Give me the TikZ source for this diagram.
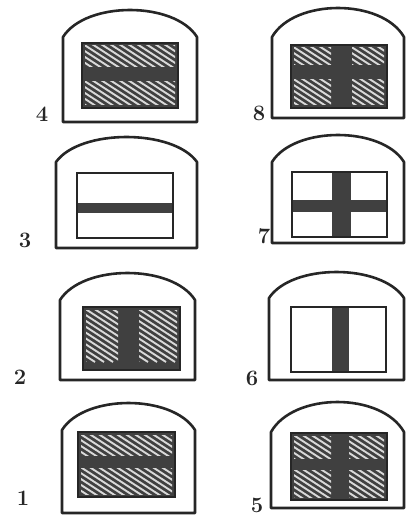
\documentclass[tikz,border=0pt]{standalone}
\usetikzlibrary{calc}
\tikzset{
  frame/.style={line width=2.6pt, draw=black!85, line join=round},
  pane/.style={line width=2.2pt, draw=black!85},
  darkfill/.style={fill=black!75},
  hatchline/.style={draw=white!85!black, line width=1.9pt},
  lbl/.style={font=\fontsize{22}{22}\selectfont\bfseries, text=black!85, inner sep=0pt}
}
% L R T S B  (image pixel coords, y downwards)
\newcommand\archframe[5]{%
  \pgfmathsetmacro\aW{#2-#1}%
  \pgfmathsetmacro\aH{#4-#3}%
  \draw[frame] (#1,#5) -- (#1,#4)
    .. controls (#1+0.17*\aW,#3-0.333*\aH) and (#2-0.17*\aW,#3-0.333*\aH) .. (#2,#4)
    -- (#2,#5) -- cycle;}
% hatched region x1 y1 x2 y2
\newcommand\hatchreg[4]{%
  \begin{scope}
    \clip (#1,#2) rectangle (#3,#4);
    \foreach \k in {-80,-71,...,110}
      \draw[hatchline] (#1+\k-40,#2-26) -- (#1+\k+80,#2+52);
  \end{scope}}
\begin{document}
\begin{tikzpicture}[x=1pt,y=-1pt]
\useasboundingbox (0,0) rectangle (407,518);
\fill[white] (0,0) rectangle (407,518);

% ---------- 4 ----------
\archframe{63}{197}{10}{37}{122}
\fill[darkfill] (82,43) rectangle (178,108);
\hatchreg{85}{46}{175}{67}
\hatchreg{85}{82}{175}{105}
\draw[pane] (82,43) rectangle (178,108);
\node[lbl] (n4) at (42,114) {4};

% ---------- 8 ----------
\archframe{272}{404}{8}{37}{118}
\fill[darkfill] (291,45) rectangle (387,108);
\hatchreg{294}{48}{331}{65}
\hatchreg{352}{48}{384}{65}
\hatchreg{294}{80}{331}{105}
\hatchreg{352}{80}{384}{105}
\draw[pane] (291,45) rectangle (387,108);
\node[lbl] (n8) at (259,113) {8};

% ---------- 3 ----------
\archframe{56}{197}{137}{162}{248}
\fill[darkfill] (77,203) rectangle (173,213);
\draw[pane] (77,173) rectangle (173,238);
\node[lbl] (n3) at (25,240) {3};

% ---------- 7 ----------
\archframe{272}{404}{135}{162}{243}
\fill[darkfill] (332,172) rectangle (351,237);
\fill[darkfill] (292,200) rectangle (387,212);
\draw[pane] (292,172) rectangle (387,237);
\node[lbl] (n7) at (264,236) {7};

% ---------- 2 ----------
\archframe{60}{195}{273}{300}{380}
\fill[darkfill] (83,307) rectangle (180,370);
\hatchreg{86}{310}{118}{367}
\hatchreg{139}{310}{177}{367}
\draw[pane] (83,307) rectangle (180,370);
\node[lbl] (n2) at (20,377) {2};

% ---------- 6 ----------
\archframe{269}{404}{272}{298}{380}
\fill[darkfill] (332,307) rectangle (349,372);
\draw[pane] (291,307) rectangle (386,372);
\node[lbl] (n6) at (252,378) {6};

% ---------- 1 ----------
\archframe{62}{195}{403}{430}{513}
\fill[darkfill] (78,432) rectangle (175,497);
\hatchreg{81}{435}{172}{455}
\hatchreg{81}{468}{172}{494}
\draw[pane] (78,432) rectangle (175,497);
\node[lbl] (n1) at (23,498) {1};

% ---------- 5 ----------
\archframe{271}{404}{402}{432}{508}
\fill[darkfill] (291,433) rectangle (387,500);
\hatchreg{294}{436}{331}{458}
\hatchreg{349}{436}{384}{458}
\hatchreg{294}{470}{331}{497}
\hatchreg{349}{470}{384}{497}
\draw[pane] (291,433) rectangle (387,500);
\node[lbl] (n5) at (257,505) {5};
\end{tikzpicture}
\end{document}
